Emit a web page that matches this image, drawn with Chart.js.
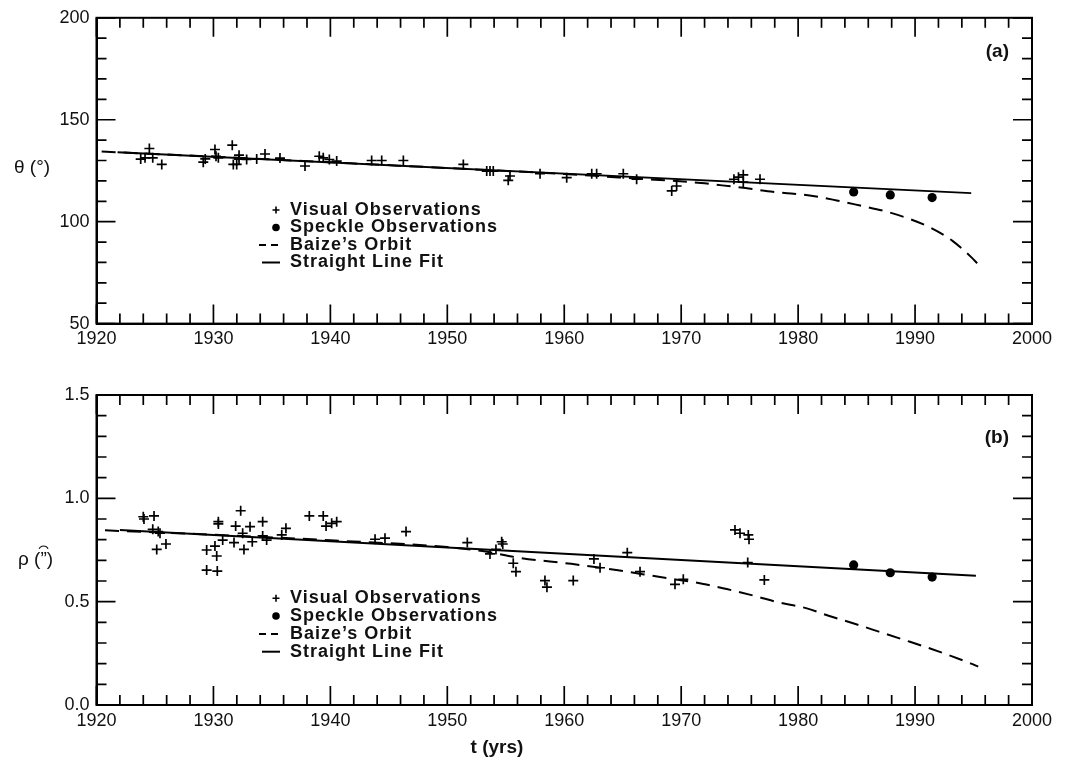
<!DOCTYPE html>
<html><head><meta charset="utf-8">
<script src="https://cdn.jsdelivr.net/npm/chart.js@4.4.1/dist/chart.umd.min.js"></script>
<style>
html,body{margin:0;padding:0;background:#fff;}
#wrap{position:relative;width:1070px;height:762px;overflow:hidden;background:#fff;}
canvas{position:absolute;left:0;}
</style></head><body>
<div id="wrap">
<canvas id="ca" width="1070" height="370" style="top:0px"></canvas>
<canvas id="cb" width="1070" height="392" style="top:370px"></canvas>
</div>
<script>
// ---------- tick labels ----------
const xTicks = [1920, 1930, 1940, 1950, 1960, 1970, 1980, 1990, 2000];
const thetaTicks = [50, 100, 150, 200];
const rhoTicks = [0.0, 0.5, 1.0, 1.5];

// ---------- panel (a): position angle theta ----------
const visThetaYears = [1923.78,1924.15,1924.52,1924.81,1925.58,1929.13,1929.3,1930.13,1930.22,1930.42,1931.61,1931.70,1931.99,1932.19,1932.19,1932.84,1933.70,1934.41,1935.69,1937.83,1939.05,1939.39,1939.91,1940.54,1943.53,1944.39,1946.24,1951.37,1953.37,1953.65,1953.93,1955.21,1955.36,1957.93,1960.21,1962.35,1962.77,1965.05,1966.19,1969.19,1969.61,1974.51,1974.90,1975.31,1975.31,1976.74];
const visTheta      = [130.7,131.3,135.9,131.3,128.1,129.2,130.8,135.4,132.1,131.3,137.5,128.1,128.1,132.6,130.7,130.5,130.7,133.2,131.2,127.3,132.1,131.3,130.5,129.7,130.0,130.0,130.0,128.1,124.8,124.8,124.8,120.3,122.4,123.5,121.6,123.5,123.5,123.5,120.8,115.1,117.5,120.8,121.8,123.0,119.4,120.8];

const speckleYears = [1984.75, 1987.88, 1991.46];
const speckleTheta = [114.6, 113.1, 111.8];

const orbitThetaYears = [1920.44,1930,1940,1950,1960,1966,1971.7,1973.5,1975.5,1977.4,1979.4,1981.4,1983.3,1985.3,1987.4,1989.3,1991.3,1993.2,1994.8,1995.35];
const orbitTheta      = [134.4,131.9,129.1,126.3,123.4,121.2,119.0,117.8,116.5,114.9,113.8,112.5,110.4,107.9,105.2,101.8,97.1,90.6,82.6,79.4];

const fitThetaYears = [1921.8, 1994.8];
const fitTheta      = [134.0, 114.0];

// ---------- panel (b): separation rho ----------
const visRhoYears = [1924.00,1924.06,1924.92,1924.81,1925.28,1925.43,1925.15,1925.94,1929.42,1930.13,1930.28,1930.42,1930.42,1929.42,1930.33,1930.79,1931.90,1932.33,1931.76,1932.50,1932.61,1933.13,1933.32,1934.21,1934.21,1934.55,1935.84,1936.20,1938.20,1939.39,1939.63,1940.11,1940.54,1943.82,1944.67,1946.47,1951.71,1953.65,1954.16,1954.65,1954.74,1955.64,1955.87,1958.35,1958.52,1960.77,1962.54,1963.06,1965.39,1966.48,1969.47,1970.18,1974.60,1975.03,1975.74,1975.80,1975.69,1977.11];
const visRho      = [0.911,0.900,0.915,0.850,0.839,0.831,0.753,0.779,0.750,0.769,0.721,0.887,0.876,0.653,0.648,0.798,0.866,0.940,0.786,0.831,0.753,0.863,0.790,0.887,0.818,0.798,0.823,0.855,0.915,0.915,0.866,0.879,0.887,0.802,0.807,0.839,0.786,0.731,0.753,0.790,0.779,0.686,0.645,0.602,0.570,0.602,0.707,0.664,0.737,0.645,0.584,0.608,0.847,0.831,0.823,0.802,0.689,0.605];

const speckleRho = [0.678, 0.640, 0.619];

const orbitRhoYears = [1920.73,1930,1940,1950,1953,1956.2,1960.6,1964.6,1968.2,1971.9,1973.9,1976.2,1978.3,1980.6,1982.6,1984.9,1986.9,1988.9,1990.9,1992.6,1994.8,1995.4];
const orbitRho      = [0.845,0.824,0.797,0.764,0.745,0.712,0.683,0.652,0.619,0.586,0.561,0.529,0.497,0.470,0.432,0.392,0.355,0.318,0.281,0.247,0.200,0.186];

const fitRhoYears = [1922.0, 1995.2];
const fitRho      = [0.847, 0.626];

const legendLabels = ['Visual Observations', 'Speckle Observations', 'Baize\u2019s Orbit', 'Straight Line Fit'];

// ---------- helpers ----------
const FONT = '"Liberation Sans", Arial, Helvetica, sans-serif';
Chart.defaults.font.family = FONT;
Chart.defaults.color = '#111';
const pts = (xs, ys) => xs.map((x, i) => ({x: x, y: ys[i]}));

const framePlugin = {
  id: 'frame',
  afterDraw(chart, args, o) {
    const {ctx, chartArea: a, scales} = chart;
    const xs = scales.x, ys = scales.y;
    ctx.save();
    ctx.strokeStyle = '#000';
    ctx.lineWidth = 2;
    ctx.strokeRect(a.left, a.top, a.right - a.left, a.bottom - a.top);
    ctx.lineWidth = 1.7;
    ctx.beginPath();
    const nx = Math.round((xs.max - xs.min) / o.xMinor);
    for (let i = 0; i <= nx; i++) {
      const v = xs.min + i * o.xMinor;
      const px = xs.getPixelForValue(v);
      const r = v / o.xMajor;
      const L = Math.abs(r - Math.round(r)) < 1e-6 ? o.majorLen : o.minorLen;
      ctx.moveTo(px, a.bottom); ctx.lineTo(px, a.bottom - L);
      ctx.moveTo(px, a.top); ctx.lineTo(px, a.top + L);
    }
    const ny = Math.round((ys.max - ys.min) / o.yMinor);
    for (let i = 0; i <= ny; i++) {
      const v = ys.min + i * o.yMinor;
      const py = ys.getPixelForValue(v);
      const r = v / o.yMajor;
      const L = Math.abs(r - Math.round(r)) < 1e-6 ? o.majorLen : o.minorLen;
      ctx.moveTo(a.left, py); ctx.lineTo(a.left + L, py);
      ctx.moveTo(a.right, py); ctx.lineTo(a.right - L, py);
    }
    ctx.stroke();

    // legend
    const lg = o.legend;
    ctx.fillStyle = '#111';
    ctx.font = 'bold ' + lg.size + 'px ' + FONT;
    ctx.textBaseline = 'middle';
    ctx.textAlign = 'left';
    legendLabels.forEach((t, i) => {
      const y = lg.ys[i];
      ctx.letterSpacing = '1px';
      ctx.fillText(t, lg.textX, y);
      ctx.letterSpacing = '0px';
      ctx.strokeStyle = '#000';
      ctx.beginPath();
      if (i === 0) {
        ctx.lineWidth = 1.6;
        ctx.moveTo(lg.symX - 3.5, y); ctx.lineTo(lg.symX + 3.5, y);
        ctx.moveTo(lg.symX, y - 3.5); ctx.lineTo(lg.symX, y + 3.5);
        ctx.stroke();
      } else if (i === 1) {
        ctx.fillStyle = '#000';
        ctx.arc(lg.symX, y, 3.8, 0, Math.PI * 2);
        ctx.fill();
        ctx.fillStyle = '#111';
      } else if (i === 2) {
        ctx.lineWidth = 2;
        ctx.moveTo(lg.symX - 17, y); ctx.lineTo(lg.symX - 10, y);
        ctx.moveTo(lg.symX - 5, y); ctx.lineTo(lg.symX + 2, y);
        ctx.stroke();
      } else {
        ctx.lineWidth = 2;
        ctx.moveTo(lg.symX - 14, y); ctx.lineTo(lg.symX + 4, y);
        ctx.stroke();
      }
    });

    // free texts
    (o.texts || []).forEach(t => {
      ctx.font = t.font;
      ctx.textAlign = t.align || 'left';
      ctx.textBaseline = 'middle';
      ctx.fillStyle = '#111';
      ctx.fillText(t.text, t.x, t.y);
      if (t.hatAfter) {
        // small arc accent over the closing quote of the unit
        const w0 = ctx.measureText(t.hatAfter).width;
        const w1 = ctx.measureText(t.hatAfter + '\u201D').width;
        const cx = t.x + (w0 + w1) / 2;
        ctx.beginPath();
        ctx.lineWidth = 1.2;
        ctx.strokeStyle = '#111';
        ctx.arc(cx, t.y - 9, 5, Math.PI * 1.15, Math.PI * 1.85);
        ctx.stroke();
      }
    });
    ctx.restore();
  }
};

function makeChart(id, cfg) {
  const tickFont = {size: 18, family: FONT};
  return new Chart(document.getElementById(id), {
    type: 'scatter',
    data: {
      datasets: [
        {label: legendLabels[0], data: cfg.vis, pointStyle: 'cross', pointRadius: 5, pointBorderWidth: 1.7,
         borderColor: '#000', backgroundColor: '#000', showLine: false, order: 1},
        {label: legendLabels[1], data: cfg.spk, pointStyle: 'circle', pointRadius: 4.6, pointBorderWidth: 0,
         borderColor: '#000', backgroundColor: '#000', showLine: false, order: 0},
        {label: legendLabels[2], data: cfg.orbit, showLine: true, pointRadius: 0, borderColor: '#000',
         borderWidth: 2, borderDash: [14, 8], cubicInterpolationMode: 'monotone', fill: false, order: 3},
        {label: legendLabels[3], data: cfg.fit, showLine: true, pointRadius: 0, borderColor: '#000',
         borderWidth: 2, fill: false, order: 2}
      ]
    },
    options: {
      responsive: false, animation: false, devicePixelRatio: 1,
      events: [],
      layout: {padding: {left: 0, right: 38, top: cfg.top, bottom: 0}},
      plugins: {
        legend: {display: false}, tooltip: {enabled: false},
        frame: cfg.frame
      },
      scales: {
        x: {
          type: 'linear', min: 1920, max: 2000,
          afterBuildTicks: s => { s.ticks = xTicks.map(v => ({value: v})); },
          afterFit: s => { s.height = cfg.xh; },
          grid: {display: true, drawOnChartArea: false, drawTicks: false},
          border: {display: true, color: '#000', width: 2},
          ticks: {font: tickFont, color: '#111', padding: 5, maxRotation: 0, callback: v => String(v)}
        },
        y: {
          type: 'linear', min: cfg.ymin, max: cfg.ymax,
          afterBuildTicks: s => { s.ticks = cfg.yTicks.map(v => ({value: v})); },
          afterFit: s => { s.width = 96.5; },
          grid: {display: true, drawOnChartArea: false, drawTicks: false},
          border: {display: true, color: '#000', width: 2},
          ticks: {font: tickFont, color: '#111', padding: 7, callback: cfg.yfmt}
        }
      }
    },
    plugins: [framePlugin]
  });
}

makeChart('ca', {
  vis: pts(visThetaYears, visTheta),
  spk: pts(speckleYears, speckleTheta),
  orbit: pts(orbitThetaYears, orbitTheta),
  fit: pts(fitThetaYears, fitTheta),
  ymin: 50, ymax: 200, yTicks: thetaTicks, yfmt: v => String(v),
  top: 15.6, xh: 370 - 323.6,
  frame: {
    xMinor: 2, xMajor: 10, yMinor: 10, yMajor: 50, majorLen: 19, minorLen: 10,
    legend: {size: 18, textX: 290, symX: 276, ys: [210, 227.5, 245, 262.5]},
    texts: [
      {text: '\u03B8 (\u00B0)', x: 14, y: 168, font: '19px ' + FONT},
      {text: '(a)', x: 1009, y: 52, font: 'bold 19px ' + FONT, align: 'right'}
    ]
  }
});

makeChart('cb', {
  vis: pts(visRhoYears, visRho),
  spk: pts(speckleYears, speckleRho),
  orbit: pts(orbitRhoYears, orbitRho),
  fit: pts(fitRhoYears, fitRho),
  ymin: 0, ymax: 1.5, yTicks: rhoTicks, yfmt: v => Number(v).toFixed(1),
  top: 25, xh: 392 - 335,
  frame: {
    xMinor: 2, xMajor: 10, yMinor: 0.1, yMajor: 0.5, majorLen: 19, minorLen: 10,
    legend: {size: 18, textX: 290, symX: 276, ys: [228.3, 246, 264, 281.7]},
    texts: [
      {text: '\u03C1 (\u201D)', x: 18, y: 190, font: '19px ' + FONT, hatAfter: '\u03C1 ('},
      {text: '(b)', x: 1009, y: 68, font: 'bold 19px ' + FONT, align: 'right'},
      {text: 't (yrs)', x: 497, y: 378, font: 'bold 19px ' + FONT, align: 'center'}
    ]
  }
});
</script>
</body></html>
